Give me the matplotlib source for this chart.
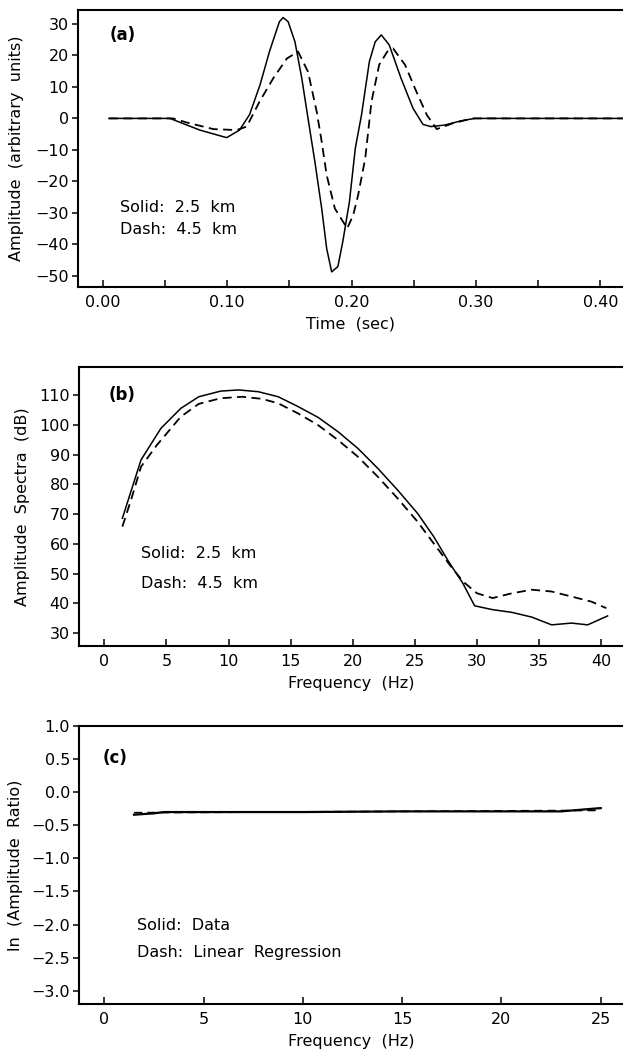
import matplotlib
matplotlib.use("Agg")
import matplotlib.pyplot as plt
from matplotlib.ticker import MultipleLocator, FormatStrFormatter, FuncFormatter

# ---------------- data ----------------
# Panel (a): seismograms
time_solid = [0.005, 0.054, 0.078, 0.0996, 0.110, 0.118, 0.1264, 0.134, 0.142, 0.145,
              0.149, 0.1545, 0.160, 0.165, 0.1705, 0.176, 0.180, 0.184, 0.189, 0.193,
              0.1983, 0.203, 0.208, 0.2143, 0.219, 0.2239, 0.2303, 0.2398, 0.2494,
              0.2574, 0.2637, 0.275, 0.2877, 0.299, 0.418]
amp_solid = [0, 0, -3.7, -6.1, -3.7, 1.2, 10.6, 21.2, 30.7, 32.0,
             30.7, 24.3, 12.7, 0, -13.7, -28.6, -41.3, -48.7, -47.0, -39.0,
             -26.4, -9.5, 1.1, 18.0, 24.3, 26.5, 23.3, 12.7, 3.2,
             -1.9, -2.6, -2.1, -0.8, 0, 0]

time_dash = [0.005, 0.0565, 0.0675, 0.089, 0.1076, 0.1157, 0.126, 0.137, 0.148, 0.157,
             0.165, 0.172, 0.176, 0.180, 0.1866, 0.1965, 0.2013, 0.2053, 0.211, 0.216,
             0.2222, 0.2287, 0.2334, 0.243, 0.251, 0.2605, 0.2685, 0.281, 0.297, 0.418]
amp_dash = [0, 0, -1.3, -3.4, -3.7, -2.6, 5.3, 12.7, 19.0, 21.2,
            14.8, 2.1, -7.4, -18.0, -28.6, -34.9, -30.7, -24.3, -12.7, 5.3,
            17.0, 21.2, 22.2, 17.0, 9.5, 1.1, -3.4, -1.6, 0, 0]

# Panel (b): amplitude spectra (dB)
freq_b = [1.46, 2.96, 4.56, 6.16, 7.6, 9.36, 10.8, 12.4, 14.0, 15.6, 17.2, 18.8,
          20.4, 22.0, 23.6, 25.2, 26.5, 27.7, 28.85, 29.8, 31.25, 32.8, 34.4, 36.0,
          37.6, 38.9, 40.5]
spec_solid = [68.6, 88.2, 98.8, 105.5, 109.4, 111.3, 111.7, 111.1, 109.4, 106.1,
              102.5, 97.7, 92.1, 85.4, 78.1, 70.3, 62.5, 54.1, 46.8, 39.2, 37.9,
              37.0, 35.4, 32.8, 33.4, 32.8, 35.8]
freq_b_dash = [1.46, 2.16, 2.96, 4.24, 6.16, 7.6, 9.36, 11.1, 12.7, 14.0, 15.6, 17.2,
               18.8, 20.4, 22.0, 23.6, 25.2, 26.5, 27.7, 28.85, 30.0, 31.25, 32.8,
               34.4, 36.0, 37.6, 39.2, 40.4]
spec_dash = [65.8, 74.8, 85.9, 93.2, 102.7, 107.0, 108.9, 109.4, 108.7, 107.2, 103.8,
             99.9, 94.9, 89.3, 82.6, 75.3, 67.5, 60.2, 53.5, 47.4, 43.4, 41.8, 43.4,
             44.6, 44.0, 42.3, 40.6, 38.4]

# Panel (c): ln amplitude ratio
freq_c = [1.5, 2.0, 2.5, 3.0, 5.0, 10.0, 15.0, 20.0, 23.0, 25.0]
ratio_data = [-0.34, -0.33, -0.32, -0.30, -0.30, -0.30, -0.29, -0.29, -0.29, -0.24]
freq_reg = [1.5, 25.0]
ratio_reg = [-0.31, -0.275]

# ---------------- style ----------------
plt.rcParams['font.family'] = ['DejaVu Sans']
FS = 11.5
DASH = (0, (5, 3))

fig = plt.figure(figsize=(6.23, 10.58), dpi=100)
W, H = 623.0, 1058.0


def make_axes(left, top, bottom):
    return fig.add_axes([left / W, 1 - bottom / H, 1 - left / W, (bottom - top) / H])


def style(ax):
    for s in ['left', 'bottom', 'top']:
        ax.spines[s].set_linewidth(1.5)
    ax.spines['right'].set_visible(False)
    ax.tick_params(axis='x', which='both', direction='in', length=5, width=1.1,
                   pad=6, labelsize=FS, top=False)
    ax.tick_params(axis='y', which='both', direction='out', length=4, width=1.1,
                   pad=2.5, labelsize=FS, right=False)


def ylab(text, xpix, top, bottom):
    fig.text(xpix / W, 1 - (top + bottom) / 2 / H, text, rotation=90,
             ha='center', va='center', fontsize=FS)


minus_fmt = FuncFormatter(lambda v, p: ('%.1f' % v).replace('-', '\u2212'))

# ---- Panel (a)
ax1 = make_axes(78, 10, 286.7)
ax1.plot(time_solid, amp_solid, color='black', lw=1.1)
ax1.plot(time_dash, amp_dash, color='black', lw=1.3, linestyle=DASH)
ax1.set_xlim(-0.0199, 0.4182)
ax1.set_ylim(-53.4, 34.4)
ax1.xaxis.set_major_locator(MultipleLocator(0.1))
ax1.xaxis.set_minor_locator(MultipleLocator(0.05))
ax1.xaxis.set_major_formatter(FormatStrFormatter('%.2f'))
ax1.yaxis.set_major_locator(MultipleLocator(10))
style(ax1)
ax1.set_xlabel('Time  (sec)', fontsize=FS, labelpad=5)
ylab('Amplitude  (arbitrary  units)', 17, 10, 286.7)
fig.text(123 / W, 1 - 35 / H, '(a)', fontsize=12, fontweight='bold',
         ha='center', va='center')
fig.text(120 / W, 1 - 208 / H, 'Solid:  2.5  km', fontsize=FS, va='center')
fig.text(120 / W, 1 - 229 / H, 'Dash:  4.5  km', fontsize=FS, va='center')

# ---- Panel (b)
ax2 = make_axes(79, 367, 645.7)
ax2.plot(freq_b, spec_solid, color='black', lw=1.1)
ax2.plot(freq_b_dash, spec_dash, color='black', lw=1.3, linestyle=DASH)
ax2.set_xlim(-2.03, 41.74)
ax2.set_ylim(25.8, 119.4)
ax2.xaxis.set_major_locator(MultipleLocator(5))
ax2.set_yticks([30, 40, 50, 60, 70, 80, 90, 100, 110])
style(ax2)
ax2.set_xlabel('Frequency  (Hz)', fontsize=FS, labelpad=5)
ylab('Amplitude  Spectra  (dB)', 23, 367, 645.7)
fig.text(122 / W, 1 - 395 / H, '(b)', fontsize=12, fontweight='bold',
         ha='center', va='center')
fig.text(141 / W, 1 - 553 / H, 'Solid:  2.5  km', fontsize=FS, va='center')
fig.text(141 / W, 1 - 583 / H, 'Dash:  4.5  km', fontsize=FS, va='center')

# ---- Panel (c)
ax3 = make_axes(79, 726, 1004)
ax3.plot(freq_c, ratio_data, color='black', lw=1.6)
ax3.plot(freq_reg, ratio_reg, color='black', lw=1.2, linestyle=DASH)
ax3.set_xlim(-1.27, 26.12)
ax3.set_ylim(-3.2, 1.0)
ax3.xaxis.set_major_locator(MultipleLocator(5))
ax3.yaxis.set_major_locator(MultipleLocator(0.5))
ax3.yaxis.set_major_formatter(minus_fmt)
style(ax3)
ax3.set_xlabel('Frequency  (Hz)', fontsize=FS, labelpad=5)
ylab('ln  (Amplitude  Ratio)', 16, 726, 1004)
fig.text(115 / W, 1 - 758 / H, '(c)', fontsize=12, fontweight='bold',
         ha='center', va='center')
fig.text(137 / W, 1 - 926 / H, 'Solid:  Data', fontsize=FS, va='center')
fig.text(137 / W, 1 - 952 / H, 'Dash:  Linear  Regression', fontsize=FS, va='center')

fig.savefig('out.png', dpi=100)
